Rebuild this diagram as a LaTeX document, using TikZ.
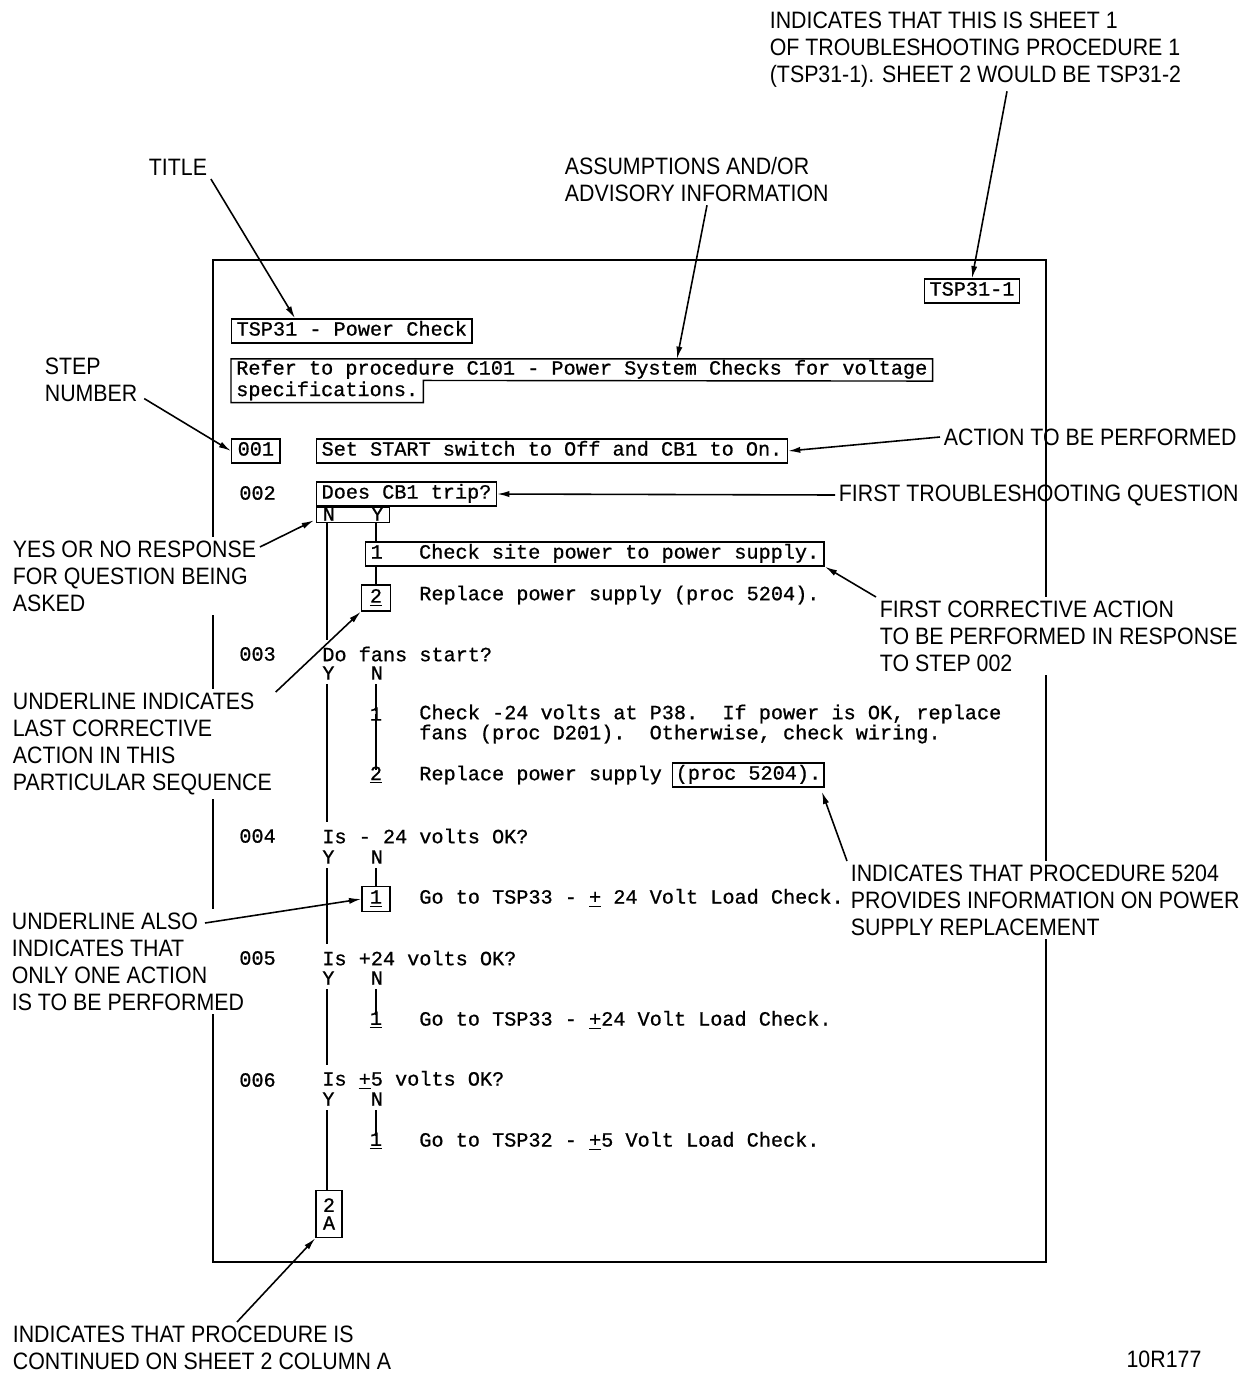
\documentclass[tikz,border=0pt]{standalone}
\usepackage{fontspec}
\newfontfamily\monofont[FakeBold=0.8]{Liberation Mono}
\newfontfamily\notefont[FakeStretch=0.9]{Liberation Sans}
\usetikzlibrary{arrows.meta, positioning}

\begin{document}
\begin{tikzpicture}[
  x=0.02cm, y=-0.02cm,
  txt/.style={inner sep=0pt, anchor=west, font=\monofont\fontsize{11.5}{11.4}\selectfont},
  box/.style={txt, draw, line width=0.8pt, inner xsep=2.8pt, inner ysep=1.8pt,
    text height=7.6pt, text depth=2.4pt},
  numbox/.style={box, anchor=center, minimum width=0.58cm, minimum height=0.52cm},
  note/.style={inner sep=2pt, align=left, font=\notefont\fontsize{13.5}{15.4}\selectfont},
  mask/.style={note, fill=white},
  arrow/.style={-{Latex[length=7pt, width=3.5pt]}, line width=0.9pt},
  link/.style={line width=0.8pt},
]
\useasboundingbox (0,0) rectangle (1252,1374);

% Sheet frame
\draw[line width=1pt] (213,260) rectangle (1046,1262);

% Notes round the sheet
\node[note, anchor=north west] (sheetnote) at (766,8) {INDICATES THAT THIS IS SHEET 1\\OF TROUBLESHOOTING PROCEDURE 1\\(TSP31-1). SHEET 2 WOULD BE TSP31-2};
\node[note] (titlenote) at (178,167) {TITLE};
\node[note, anchor=north west] (assume) at (561,153) {ASSUMPTIONS AND/OR\\ADVISORY INFORMATION};
\node[note, anchor=north west] (stepnote) at (41,354) {STEP\\NUMBER};
\node[note, anchor=west] (actnote) at (940,437) {ACTION TO BE PERFORMED};
\node[note, anchor=west] (qnote) at (835,495) {FIRST TROUBLESHOOTING QUESTION};
\node[mask, anchor=north west] (ynnote) at (9,537) {YES OR NO RESPONSE\\FOR QUESTION BEING\\ASKED};
\node[mask, anchor=north west] (corrnote) at (876,597) {FIRST CORRECTIVE ACTION\\TO BE PERFORMED IN RESPONSE\\TO STEP 002};
\node[mask, anchor=north west] (lastnote) at (9,689) {UNDERLINE INDICATES\\LAST CORRECTIVE\\ACTION IN THIS\\PARTICULAR SEQUENCE};
\node[mask, anchor=north west] (procnote) at (847,861) {INDICATES THAT PROCEDURE 5204\\PROVIDES INFORMATION ON POWER\\SUPPLY REPLACEMENT};
\node[mask, anchor=north west] (alsonote) at (8,909) {UNDERLINE ALSO\\INDICATES THAT\\ONLY ONE ACTION\\IS TO BE PERFORMED};
\node[note, anchor=north west] (contnote) at (9,1322) {INDICATES THAT PROCEDURE IS\\CONTINUED ON SHEET 2 COLUMN A};
\node[note] (fignum) at (1164,1359) {10R177};

% Heading
\node[box, anchor=center] (sheetid) at (972,291) {TSP31-1};
\node[box] (tsp) at (231,331) {TSP31 - Power Check};
\node[txt, inner xsep=2.8pt, inner ysep=1.1pt, text height=7.6pt, text depth=2.4pt] (advA) at (231,370)
  {Refer to procedure C101 - Power System Checks for voltage};
\node[txt, inner xsep=2.8pt, inner ysep=1.1pt, text height=7.6pt, text depth=2.4pt] (advB) at (231,391.5)
  {specifications.};
\draw[link] (advA.north west) -- (advA.north east) -- (advA.south east) -- (advB.north east)
  -- (advB.south east) -- (advB.south west) -- cycle;

% Step 001
\node[box, inner xsep=3.4pt] (s1) at (231,451) {001};
\node[box] (actbox) at (316,451) {Set START switch to Off and CB1 to On.};

% Step 002
\node[txt] (s2) at (239,493) {002};
\node[box] (does) at (316,494) {Does CB1 trip?};
\node[box, anchor=north west, text height=7pt, text depth=0.5pt, inner ysep=0.6pt, inner xsep=3.5pt] (yn) at (does.south west) {N~~~Y};
\node[box] (c1) at (365,554) {1~~~Check site power to power supply.};
\node[numbox] (c2) at (376,598) {\underline{2}};
\node[txt] (c2txt) at (419,595) {Replace power supply (proc 5204).};

% Step 003
\node[txt] (s3) at (239,654) {003};
\node[txt] (q3) at (322,654) {Do fans start?};
\node[txt] (a3) at (322,673) {Y~~~N};
\node[txt, anchor=center] (n31) at (376,714) {1};
\node[txt, align=left] (n31txt) at (419,724) {Check -24 volts at P38.~~If power is OK, replace\\fans (proc D201).~~Otherwise, check wiring.};
\node[txt, anchor=center] (n32) at (376,775) {\underline{2}};
\node[txt] (n32txt) at (419,775) {Replace power supply};
\node[box, inner xsep=1.7pt] (procbox) at (672,775) {(proc 5204).};

% Step 004
\node[txt] (s4) at (239,836) {004};
\node[txt] (q4) at (322,836) {Is - 24 volts OK?};
\node[txt] (a4) at (322,857) {Y~~~N};
\node[numbox, minimum width=0.56cm, minimum height=0.5cm] (b41) at (376,899) {\underline{1}};
\node[txt] (b41txt) at (419,898) {Go to TSP33 - \underline{+} 24 Volt Load Check.};

% Step 005
\node[txt] (s5) at (239,958) {005};
\node[txt] (q5) at (322,958) {Is +24 volts OK?};
\node[txt] (a5) at (322,978) {Y~~~N};
\node[txt, anchor=center] (n51) at (376,1020) {\underline{1}};
\node[txt] (n51txt) at (419,1020) {Go to TSP33 - \underline{+}24 Volt Load Check.};

% Step 006
\node[txt] (s6) at (239,1080) {006};
\node[txt] (q6) at (322,1080) {Is \underline{+}5 volts OK?};
\node[txt] (a6) at (322,1099) {Y~~~N};
\node[txt, anchor=center] (n61) at (376,1141) {\underline{1}};
\node[txt] (n61txt) at (419,1141) {Go to TSP32 - \underline{+}5 Volt Load Check.};

% Continuation
\node[draw, line width=0.8pt, inner sep=1pt, minimum width=0.52cm, minimum height=0.94cm, align=center,
  font=\monofont\fontsize{11.5}{10.2}\selectfont] (cont) at (329,1214) {2\\A};

% Yes path
\draw[link] ([shift={(11,0)}]yn.south west) -- ([shift={(5,-6)}]q3.north west);
\draw[link] ([shift={(5,4)}]a3.south west) -- ([shift={(5,-6)}]q4.north west);
\draw[link] ([shift={(5,4)}]a4.south west) -- ([shift={(5,-6)}]q5.north west);
\draw[link] ([shift={(5,4)}]a5.south west) -- ([shift={(5,-6)}]q6.north west);
\draw[link] ([shift={(5,4)}]a6.south west) -- ([shift={(5,0)}]a6.south west |- cont.north);

% No path
\draw[link] ([shift={(60,0)}]yn.south west) -- ([shift={(11,0)}]c1.north west);
\draw[link] ([shift={(11,0)}]c1.south west) -- (c2.north);
\draw[link] ([shift={(54,4)}]a3.south west) -- ([yshift=-2]n31.north);
\draw[link] ([yshift=4]n31.south) -- ([yshift=-2]n32.north);
\draw[link] ([shift={(54,4)}]a4.south west) -- (b41.north);
\draw[link] ([shift={(54,4)}]a5.south west) -- ([yshift=-2]n51.north);
\draw[link] ([shift={(54,4)}]a6.south west) -- ([yshift=-2]n61.north);

% Arrows
\draw[arrow] ([shift={(241,0)}]sheetnote.south west) -- (sheetid.north);
\draw[arrow] (titlenote.south east) -- ([shift={(64,0)}]tsp.north west);
\draw[arrow] ([shift={(146,0)}]assume.south west) -- ([shift={(446,0)}]advA.north west);
\draw[arrow] ([shift={(3,-7)}]stepnote.south east) -- (s1.west);
\draw[arrow] (actnote.west) -- (actbox.east);
\draw[arrow] (qnote.west) -- (does.east);
\draw[arrow] ([shift={(0,10)}]ynnote.north east) -- ([shift={(-2,-3)}]yn.south west);
\draw[arrow] (corrnote.north west) -- (c1.south east);
\draw[arrow] ([shift={(0,3)}]lastnote.north east) -- (c2.south west);
\draw[arrow] (procnote.north west) -- ([shift={(-3,4)}]procbox.south east);
\draw[arrow] ([shift={(197,14)}]alsonote.north west) -- (b41.west);
\draw[arrow] ([shift={(228,0)}]contnote.north west) -- (cont.south west);

\end{tikzpicture}
\end{document}
